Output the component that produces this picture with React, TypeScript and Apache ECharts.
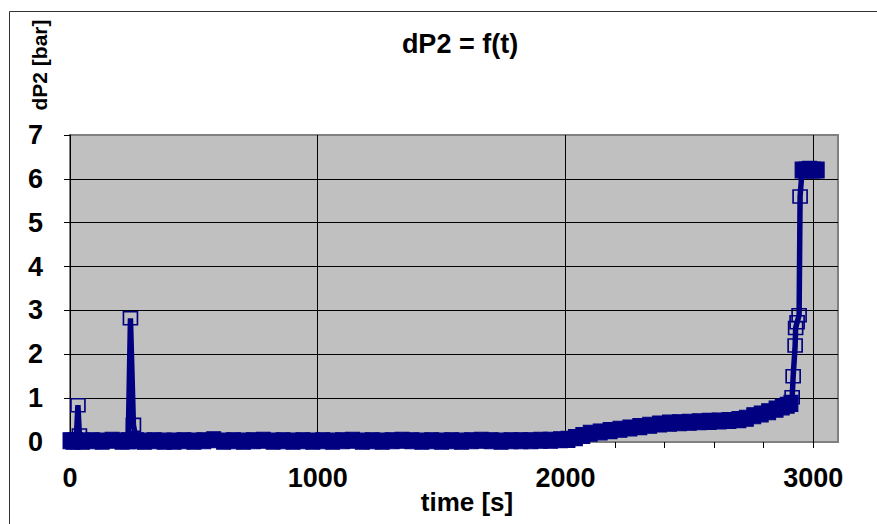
import React, { useEffect, useRef } from 'react';
import * as echarts from 'echarts';

// time [s]
const timeS = [
  0, 12, 25, 32, 38, 50, 90, 130, 170, 210,
  235, 244, 256, 268, 300, 340, 380, 420, 460, 500,
  540, 580, 620, 660, 700, 740, 780, 820, 860, 900,
  940, 980, 1020, 1060, 1100, 1140, 1180, 1220, 1260, 1300,
  1340, 1380, 1420, 1460, 1500, 1540, 1580, 1620, 1660, 1700,
  1740, 1780, 1820, 1860, 1900, 1940, 1980, 2010, 2040, 2070,
  2100, 2140, 2180, 2220, 2260, 2300, 2340, 2380, 2420, 2460,
  2500, 2540, 2580, 2620, 2660, 2700, 2730, 2760, 2790, 2820,
  2850, 2875, 2895, 2910, 2915, 2919, 2927, 2929, 2935, 2943,
  2947, 2955, 2970, 2985, 3000, 3016,
];

// dP2 [bar]
const dP2Bar = [
  0.03, 0.02, 0.03, 0.84, 0.15, 0.02, 0.03, 0.02, 0.04, 0.02,
  0.03, 2.82, 0.39, 0.03, 0.02, 0.03, 0.02, 0.02, 0.03, 0.02,
  0.03, 0.05, 0.02, 0.03, 0.02, 0.03, 0.04, 0.02, 0.03, 0.02,
  0.03, 0.02, 0.03, 0.02, 0.03, 0.04, 0.02, 0.03, 0.02, 0.03,
  0.04, 0.03, 0.02, 0.03, 0.02, 0.03, 0.02, 0.03, 0.04, 0.03,
  0.02, 0.03, 0.03, 0.03, 0.04, 0.04, 0.05, 0.06, 0.1, 0.15,
  0.2, 0.23, 0.26, 0.29, 0.32, 0.35, 0.38, 0.41, 0.43, 0.44,
  0.45, 0.46, 0.47, 0.48, 0.49, 0.51, 0.54, 0.6, 0.64, 0.69,
  0.75, 0.8, 0.84, 0.88, 1.02, 1.5, 2.2, 2.6, 2.73, 2.89,
  5.6, 6.2, 6.2, 6.22, 6.2, 6.2,
];

const xTickValues = [0, 200, 400, 600, 800, 1000, 1200, 1400, 1600, 1800, 2000, 2200, 2400, 2600, 2800, 3000];
const xLabelValues = [0, 1000, 2000, 3000];

const NAVY = '#000080';
const FONT = '"Liberation Sans", Arial, sans-serif';

export default function App() {
  const ref = useRef<HTMLDivElement>(null);

  useEffect(() => {
    const chart = echarts.init(ref.current as HTMLDivElement, null, { renderer: 'svg' });
    const n = timeS.length;
    const data = timeS.map((t, i) => {
      const v = dP2Bar[i];
      const prev = i > 0 ? dP2Bar[i - 1] : v;
      const next = i < n - 1 ? dP2Bar[i + 1] : v;
      const isolated = Math.abs(v - prev) > 0.12 && Math.abs(v - next) > 0.12;
      return isolated
        ? {
            value: [t, v],
            symbolSize: [14, 13],
            itemStyle: { color: 'rgba(0,0,0,0)', borderColor: NAVY, borderWidth: 1.6 },
          }
        : {
            value: [t, v],
            symbolSize: [14, 16],
            itemStyle: { color: NAVY, borderColor: NAVY, borderWidth: 1 },
          };
    });

    chart.setOption({
      animation: false,
      backgroundColor: '#ffffff',
      textStyle: { fontFamily: FONT },
      grid: {
        left: 70,
        top: 135,
        right: 39,
        bottom: 82,
        show: true,
        backgroundColor: '#C0C0C0',
        borderColor: '#808080',
        borderWidth: 2,
      },
      xAxis: [
        {
          type: 'value',
          min: 0,
          max: 3100,
          position: 'bottom',
          axisLine: { show: false },
          axisTick: { show: true, length: 6, customValues: xTickValues, lineStyle: { color: '#000', width: 1 } },
          axisLabel: {
            customValues: xLabelValues,
            formatter: (v: number) => String(v),
            fontSize: 27,
            fontWeight: 'bold',
            color: '#000',
            margin: 22,
            fontFamily: FONT,
          },
          splitLine: { show: false },
        },
        {
          type: 'value',
          min: 0,
          max: 3100,
          interval: 1000,
          position: 'bottom',
          axisLine: { show: false },
          axisTick: { show: false },
          axisLabel: { show: false },
          splitLine: { show: true, showMinLine: false, showMaxLine: false, lineStyle: { color: '#000', width: 1 } },
        },
      ],
      yAxis: {
        type: 'value',
        min: 0,
        max: 7,
        interval: 1,
        axisLine: { show: true, lineStyle: { color: '#000', width: 1 } },
        axisTick: { show: true, length: 6, lineStyle: { color: '#000' } },
        axisLabel: { fontSize: 27, fontWeight: 'bold', color: '#000', margin: 27, fontFamily: FONT },
        splitLine: { show: true, showMinLine: false, showMaxLine: false, lineStyle: { color: '#000', width: 1 } },
      },
      series: [
        {
          name: 'dP2',
          type: 'line',
          xAxisIndex: 0,
          data,
          symbol: 'rect',
          showAllSymbol: true,
          color: NAVY,
          lineStyle: { color: NAVY, width: 5.5 },
          emphasis: { disabled: true },
          z: 3,
        },
      ],
      graphic: [
        {
          type: 'rect',
          silent: true,
          shape: { x: 9.5, y: 11.5, width: 900, height: 600 },
          style: { fill: 'none', stroke: '#333', lineWidth: 1 },
        },
        {
          type: 'text',
          x: 460,
          y: 44,
          style: { text: 'dP2 = f(t)', font: `bold 27px ${FONT}`, fill: '#000', align: 'center', verticalAlign: 'middle' },
        },
        {
          type: 'text',
          x: 39,
          y: 65,
          rotation: Math.PI / 2,
          style: { text: 'dP2 [bar]', font: `bold 21px ${FONT}`, fill: '#000', align: 'center', verticalAlign: 'middle' },
        },
        {
          type: 'text',
          x: 467,
          y: 502,
          style: { text: 'time [s]', font: `bold 26px ${FONT}`, fill: '#000', align: 'center', verticalAlign: 'middle' },
        },
      ],
    });

    return () => chart.dispose();
  }, []);

  return <div ref={ref} style={{ position: 'absolute', left: 0, top: 0, width: 877, height: 524 }} />;
}
